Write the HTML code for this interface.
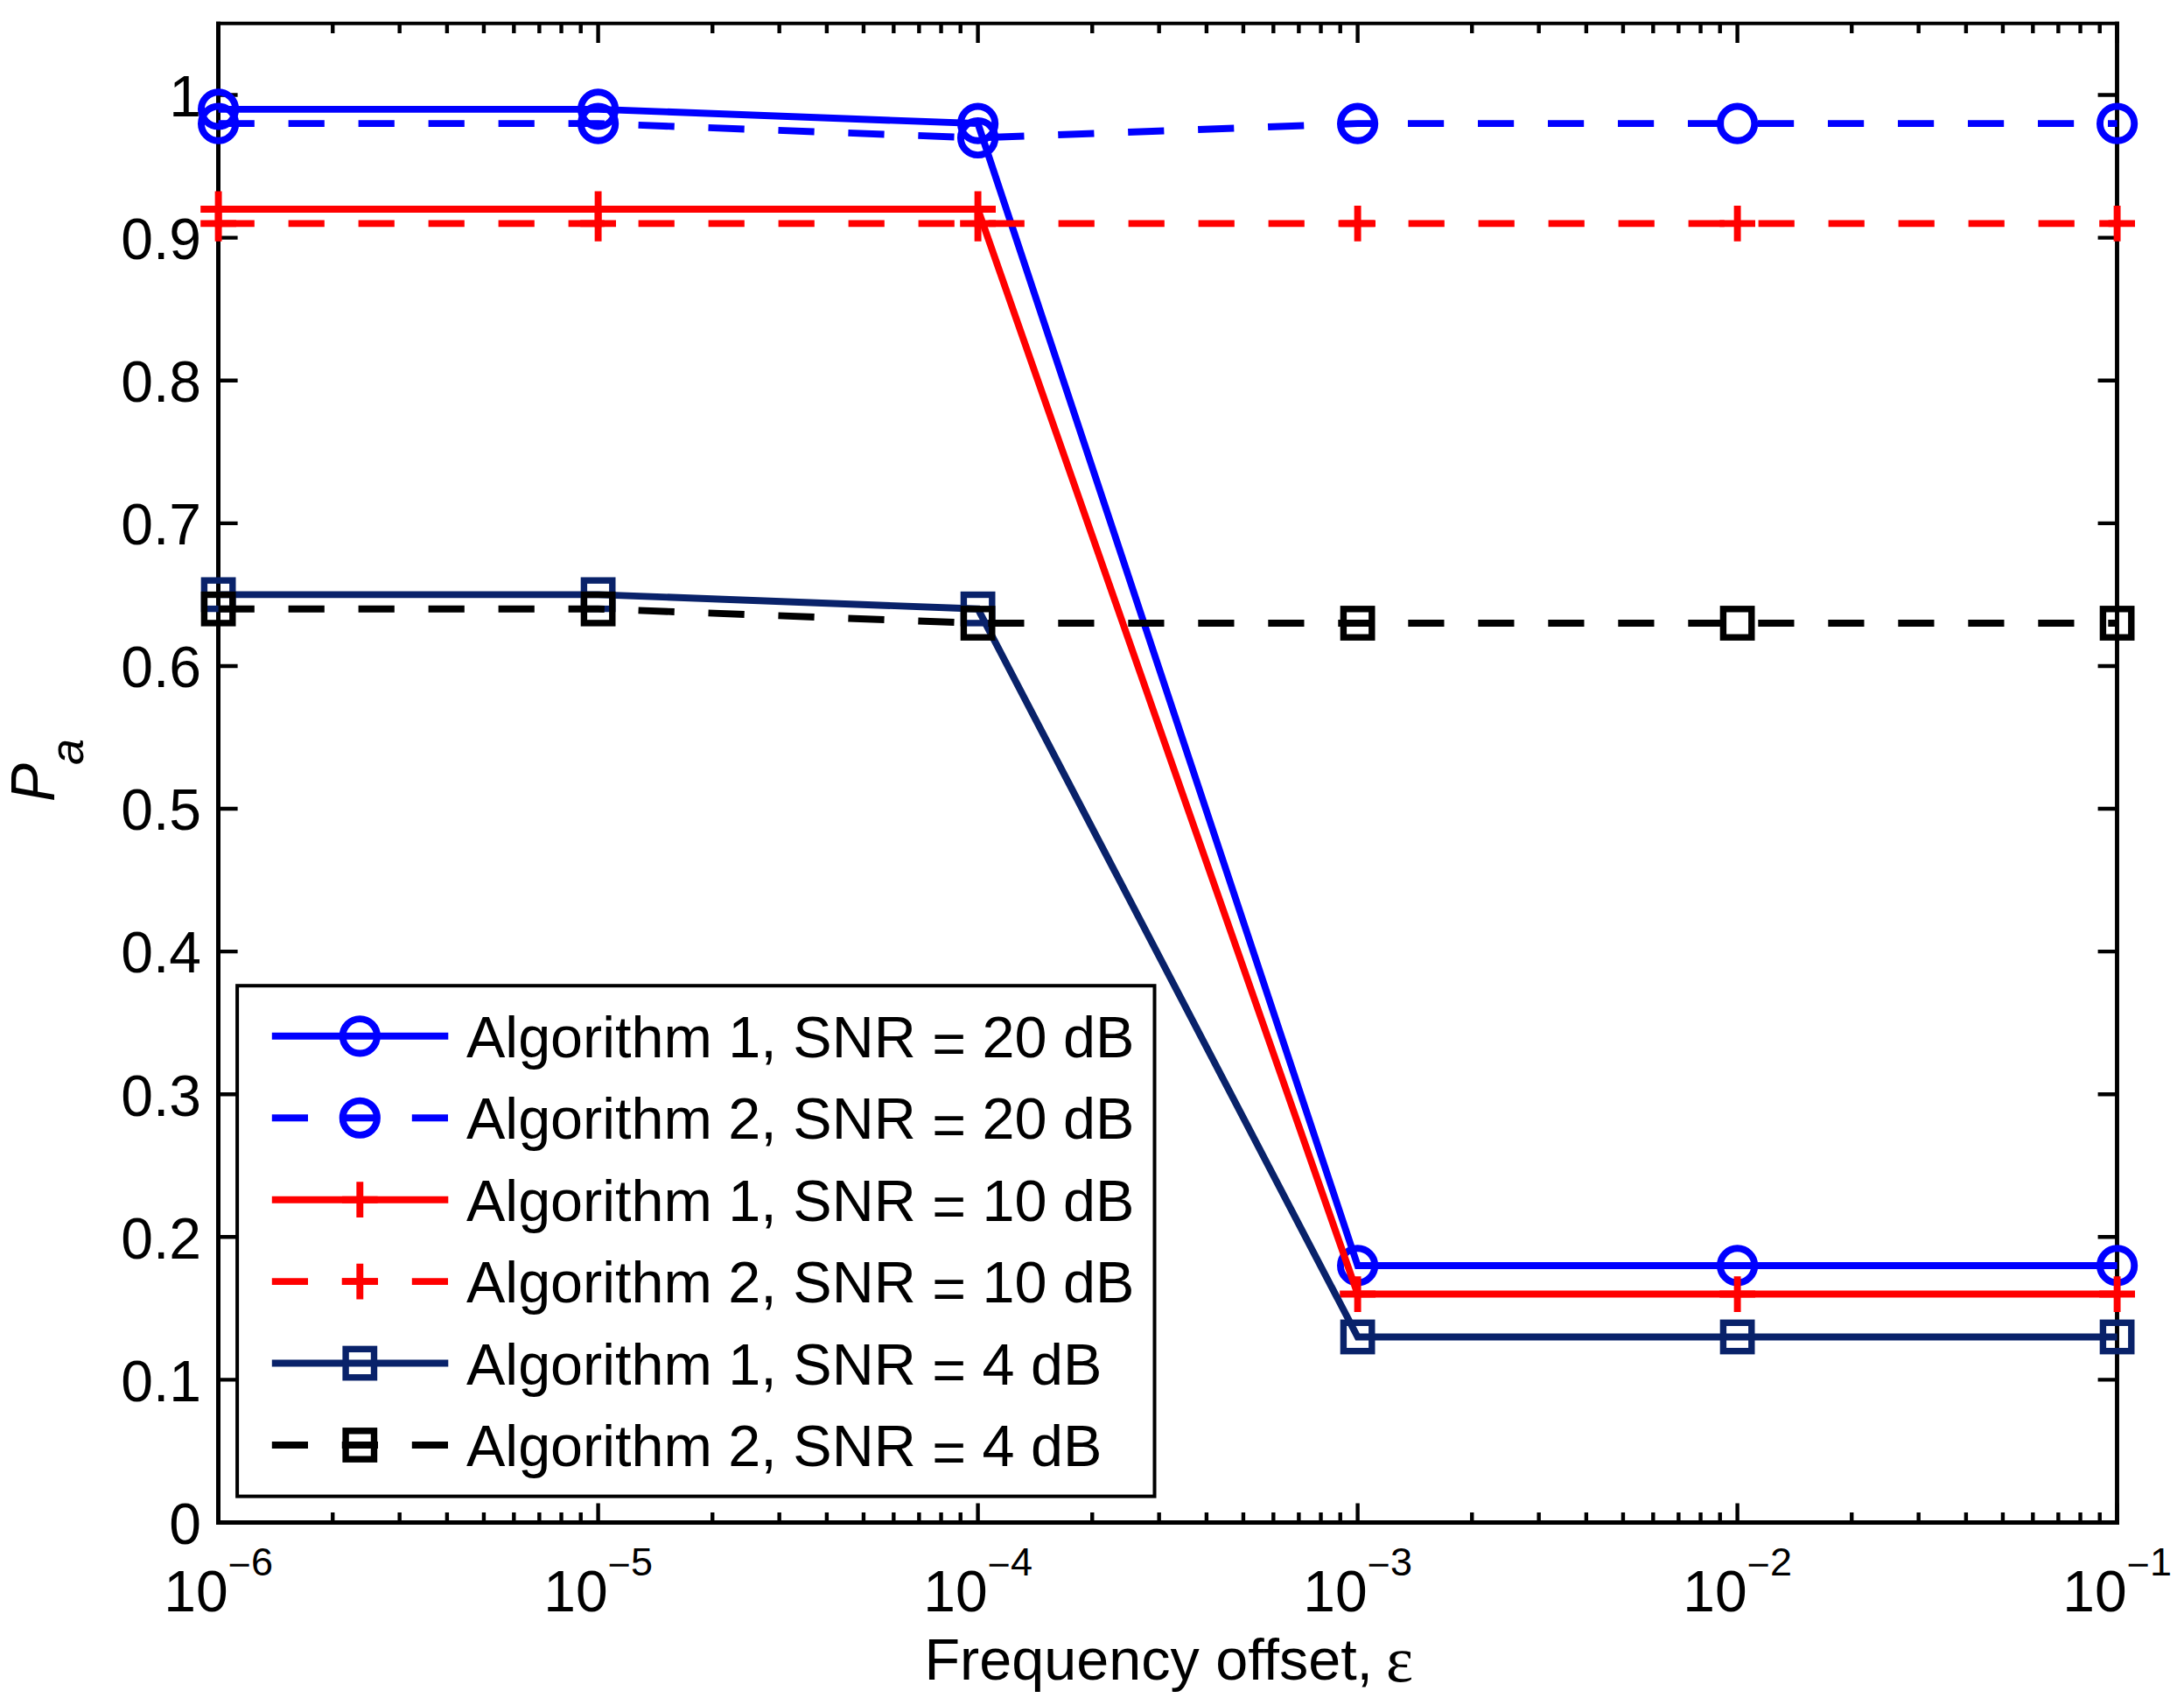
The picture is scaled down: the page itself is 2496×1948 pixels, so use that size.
<!DOCTYPE html>
<html lang="en"><head><meta charset="utf-8"><title>Pa versus frequency offset</title>
<style>
html,body{margin:0;padding:0;background:#fff;}
body{width:2496px;height:1948px;overflow:hidden;}
svg{display:block;}
text{font-family:"Liberation Sans",Arial,Helvetica,sans-serif;fill:#000;}
.t{font-size:66px;}
.s{font-size:45px;}
.l{font-size:66.5px;}
</style></head><body>
<svg width="2496" height="1948" viewBox="0 0 2496 1948">
<rect x="0" y="0" width="2496" height="1948" fill="#ffffff"/>
<path d="M380.25 1739.5V1728.00M380.25 27.0V38.00M456.67 1739.5V1728.00M456.67 27.0V38.00M510.89 1739.5V1728.00M510.89 27.0V38.00M552.95 1739.5V1728.00M552.95 27.0V38.00M587.32 1739.5V1728.00M587.32 27.0V38.00M616.37 1739.5V1728.00M616.37 27.0V38.00M641.54 1739.5V1728.00M641.54 27.0V38.00M663.74 1739.5V1728.00M663.74 27.0V38.00M683.60 1739.5V1717.50M683.60 27.0V49.00M814.25 1739.5V1728.00M814.25 27.0V38.00M890.67 1739.5V1728.00M890.67 27.0V38.00M944.89 1739.5V1728.00M944.89 27.0V38.00M986.95 1739.5V1728.00M986.95 27.0V38.00M1021.32 1739.5V1728.00M1021.32 27.0V38.00M1050.37 1739.5V1728.00M1050.37 27.0V38.00M1075.54 1739.5V1728.00M1075.54 27.0V38.00M1097.74 1739.5V1728.00M1097.74 27.0V38.00M1117.60 1739.5V1717.50M1117.60 27.0V49.00M1248.25 1739.5V1728.00M1248.25 27.0V38.00M1324.67 1739.5V1728.00M1324.67 27.0V38.00M1378.89 1739.5V1728.00M1378.89 27.0V38.00M1420.95 1739.5V1728.00M1420.95 27.0V38.00M1455.32 1739.5V1728.00M1455.32 27.0V38.00M1484.37 1739.5V1728.00M1484.37 27.0V38.00M1509.54 1739.5V1728.00M1509.54 27.0V38.00M1531.74 1739.5V1728.00M1531.74 27.0V38.00M1551.60 1739.5V1717.50M1551.60 27.0V49.00M1682.25 1739.5V1728.00M1682.25 27.0V38.00M1758.67 1739.5V1728.00M1758.67 27.0V38.00M1812.89 1739.5V1728.00M1812.89 27.0V38.00M1854.95 1739.5V1728.00M1854.95 27.0V38.00M1889.32 1739.5V1728.00M1889.32 27.0V38.00M1918.37 1739.5V1728.00M1918.37 27.0V38.00M1943.54 1739.5V1728.00M1943.54 27.0V38.00M1965.74 1739.5V1728.00M1965.74 27.0V38.00M1985.60 1739.5V1717.50M1985.60 27.0V49.00M2116.25 1739.5V1728.00M2116.25 27.0V38.00M2192.67 1739.5V1728.00M2192.67 27.0V38.00M2246.89 1739.5V1728.00M2246.89 27.0V38.00M2288.95 1739.5V1728.00M2288.95 27.0V38.00M2323.32 1739.5V1728.00M2323.32 27.0V38.00M2352.37 1739.5V1728.00M2352.37 27.0V38.00M2377.54 1739.5V1728.00M2377.54 27.0V38.00M2399.74 1739.5V1728.00M2399.74 27.0V38.00M2419.60 1739.5V1717.50M2419.60 27.0V49.00M2550.25 1739.5V1728.00M2550.25 27.0V38.00M2626.67 1739.5V1728.00M2626.67 27.0V38.00M2680.89 1739.5V1728.00M2680.89 27.0V38.00M2722.95 1739.5V1728.00M2722.95 27.0V38.00M2757.32 1739.5V1728.00M2757.32 27.0V38.00M2786.37 1739.5V1728.00M2786.37 27.0V38.00M2811.54 1739.5V1728.00M2811.54 27.0V38.00M2833.74 1739.5V1728.00M2833.74 27.0V38.00M249.6 1576.40H271.60M2419.6 1576.40H2397.60M249.6 1413.31H271.60M2419.6 1413.31H2397.60M249.6 1250.21H271.60M2419.6 1250.21H2397.60M249.6 1087.12H271.60M2419.6 1087.12H2397.60M249.6 924.02H271.60M2419.6 924.02H2397.60M249.6 760.93H271.60M2419.6 760.93H2397.60M249.6 597.83H271.60M2419.6 597.83H2397.60M249.6 434.74H271.60M2419.6 434.74H2397.60M249.6 271.64H271.60M2419.6 271.64H2397.60M249.6 108.55H271.60M2419.6 108.55H2397.60" stroke="#000" stroke-width="4.4" fill="none"/>
<path d="M247 26.85H2422" stroke="#000" stroke-width="4" fill="none"/>
<path d="M247 1739.5H2422" stroke="#000" stroke-width="4.8" fill="none"/>
<path d="M249.5 24.85V1741.9" stroke="#000" stroke-width="5" fill="none"/>
<path d="M2419.5 24.85V1741.9" stroke="#000" stroke-width="4.9" fill="none"/>
<polyline points="249.60,124.86 683.60,124.86 1117.60,141.17 1551.60,1445.93 1985.60,1445.93 2419.60,1445.93" fill="none" stroke="#0000ff" stroke-width="7.9" stroke-linejoin="miter" stroke-miterlimit="10"/>
<circle cx="249.60" cy="124.86" r="19.65" fill="none" stroke="#0000ff" stroke-width="7.9"/>
<circle cx="683.60" cy="124.86" r="19.65" fill="none" stroke="#0000ff" stroke-width="7.9"/>
<circle cx="1117.60" cy="141.17" r="19.65" fill="none" stroke="#0000ff" stroke-width="7.9"/>
<circle cx="1551.60" cy="1445.93" r="19.65" fill="none" stroke="#0000ff" stroke-width="7.9"/>
<circle cx="1985.60" cy="1445.93" r="19.65" fill="none" stroke="#0000ff" stroke-width="7.9"/>
<circle cx="2419.60" cy="1445.93" r="19.65" fill="none" stroke="#0000ff" stroke-width="7.9"/>
<polyline points="249.60,141.17 683.60,141.17 1117.60,157.48 1551.60,141.17 1985.60,141.17 2419.60,141.17" fill="none" stroke="#0000ff" stroke-width="7.9" stroke-linejoin="miter" stroke-miterlimit="10" stroke-dasharray="41.2 38.8"/>
<circle cx="249.60" cy="141.17" r="19.65" fill="none" stroke="#0000ff" stroke-width="7.9"/>
<circle cx="683.60" cy="141.17" r="19.65" fill="none" stroke="#0000ff" stroke-width="7.9"/>
<circle cx="1117.60" cy="157.48" r="19.65" fill="none" stroke="#0000ff" stroke-width="7.9"/>
<circle cx="1551.60" cy="141.17" r="19.65" fill="none" stroke="#0000ff" stroke-width="7.9"/>
<circle cx="1985.60" cy="141.17" r="19.65" fill="none" stroke="#0000ff" stroke-width="7.9"/>
<circle cx="2419.60" cy="141.17" r="19.65" fill="none" stroke="#0000ff" stroke-width="7.9"/>
<polyline points="249.60,239.02 683.60,239.02 1117.60,239.02 1551.60,1478.55 1985.60,1478.55 2419.60,1478.55" fill="none" stroke="#ff0000" stroke-width="7.9" stroke-linejoin="miter" stroke-miterlimit="10"/>
<path d="M229.20 239.02H270.00M249.60 218.62V259.42" fill="none" stroke="#ff0000" stroke-width="7.9"/>
<path d="M663.20 239.02H704.00M683.60 218.62V259.42" fill="none" stroke="#ff0000" stroke-width="7.9"/>
<path d="M1097.20 239.02H1138.00M1117.60 218.62V259.42" fill="none" stroke="#ff0000" stroke-width="7.9"/>
<path d="M1531.20 1478.55H1572.00M1551.60 1458.15V1498.95" fill="none" stroke="#ff0000" stroke-width="7.9"/>
<path d="M1965.20 1478.55H2006.00M1985.60 1458.15V1498.95" fill="none" stroke="#ff0000" stroke-width="7.9"/>
<path d="M2399.20 1478.55H2440.00M2419.60 1458.15V1498.95" fill="none" stroke="#ff0000" stroke-width="7.9"/>
<polyline points="249.60,255.33 683.60,255.33 1117.60,255.33 1551.60,255.33 1985.60,255.33 2419.60,255.33" fill="none" stroke="#ff0000" stroke-width="7.9" stroke-linejoin="miter" stroke-miterlimit="10" stroke-dasharray="41.2 38.8"/>
<path d="M229.20 255.33H270.00M249.60 234.93V275.73" fill="none" stroke="#ff0000" stroke-width="7.9"/>
<path d="M663.20 255.33H704.00M683.60 234.93V275.73" fill="none" stroke="#ff0000" stroke-width="7.9"/>
<path d="M1097.20 255.33H1138.00M1117.60 234.93V275.73" fill="none" stroke="#ff0000" stroke-width="7.9"/>
<path d="M1531.20 255.33H1572.00M1551.60 234.93V275.73" fill="none" stroke="#ff0000" stroke-width="7.9"/>
<path d="M1965.20 255.33H2006.00M1985.60 234.93V275.73" fill="none" stroke="#ff0000" stroke-width="7.9"/>
<path d="M2399.20 255.33H2440.00M2419.60 234.93V275.73" fill="none" stroke="#ff0000" stroke-width="7.9"/>
<polyline points="249.60,679.38 683.60,679.38 1117.60,695.69 1551.60,1527.48 1985.60,1527.48 2419.60,1527.48" fill="none" stroke="#09226a" stroke-width="7.9" stroke-linejoin="miter" stroke-miterlimit="10"/>
<rect x="233.40" y="663.18" width="32.4" height="32.4" fill="none" stroke="#09226a" stroke-width="7.4"/>
<rect x="667.40" y="663.18" width="32.4" height="32.4" fill="none" stroke="#09226a" stroke-width="7.4"/>
<rect x="1101.40" y="679.49" width="32.4" height="32.4" fill="none" stroke="#09226a" stroke-width="7.4"/>
<rect x="1535.40" y="1511.28" width="32.4" height="32.4" fill="none" stroke="#09226a" stroke-width="7.4"/>
<rect x="1969.40" y="1511.28" width="32.4" height="32.4" fill="none" stroke="#09226a" stroke-width="7.4"/>
<rect x="2403.40" y="1511.28" width="32.4" height="32.4" fill="none" stroke="#09226a" stroke-width="7.4"/>
<polyline points="249.60,695.69 683.60,695.69 1117.60,712.00 1551.60,712.00 1985.60,712.00 2419.60,712.00" fill="none" stroke="#000000" stroke-width="7.9" stroke-linejoin="miter" stroke-miterlimit="10" stroke-dasharray="41.2 38.8"/>
<rect x="233.40" y="679.49" width="32.4" height="32.4" fill="none" stroke="#000000" stroke-width="7.4"/>
<rect x="667.40" y="679.49" width="32.4" height="32.4" fill="none" stroke="#000000" stroke-width="7.4"/>
<rect x="1101.40" y="695.80" width="32.4" height="32.4" fill="none" stroke="#000000" stroke-width="7.4"/>
<rect x="1535.40" y="695.80" width="32.4" height="32.4" fill="none" stroke="#000000" stroke-width="7.4"/>
<rect x="1969.40" y="695.80" width="32.4" height="32.4" fill="none" stroke="#000000" stroke-width="7.4"/>
<rect x="2403.40" y="695.80" width="32.4" height="32.4" fill="none" stroke="#000000" stroke-width="7.4"/>
<text class="t" x="230" y="1763.80" text-anchor="end">0</text>
<text class="t" x="230" y="1600.70" text-anchor="end">0.1</text>
<text class="t" x="230" y="1437.61" text-anchor="end">0.2</text>
<text class="t" x="230" y="1274.51" text-anchor="end">0.3</text>
<text class="t" x="230" y="1111.42" text-anchor="end">0.4</text>
<text class="t" x="230" y="948.32" text-anchor="end">0.5</text>
<text class="t" x="230" y="785.23" text-anchor="end">0.6</text>
<text class="t" x="230" y="622.13" text-anchor="end">0.7</text>
<text class="t" x="230" y="459.04" text-anchor="end">0.8</text>
<text class="t" x="230" y="295.94" text-anchor="end">0.9</text>
<text class="t" x="230" y="132.85" text-anchor="end">1</text>
<text class="t" x="187.20" y="1840.8">10<tspan class="s" dy="-37.6">−</tspan><tspan class="s" dy="-3.7">6</tspan></text>
<text class="t" x="621.20" y="1840.8">10<tspan class="s" dy="-37.6">−</tspan><tspan class="s" dy="-3.7">5</tspan></text>
<text class="t" x="1055.20" y="1840.8">10<tspan class="s" dy="-37.6">−</tspan><tspan class="s" dy="-3.7">4</tspan></text>
<text class="t" x="1489.20" y="1840.8">10<tspan class="s" dy="-37.6">−</tspan><tspan class="s" dy="-3.7">3</tspan></text>
<text class="t" x="1923.20" y="1840.8">10<tspan class="s" dy="-37.6">−</tspan><tspan class="s" dy="-3.7">2</tspan></text>
<text class="t" x="2357.20" y="1840.8">10<tspan class="s" dy="-37.6">−</tspan><tspan class="s" dy="-3.7">1</tspan></text>
<text class="l" x="1056.5" y="1919.2">Frequency offset, <tspan style="font-family:'Liberation Serif','DejaVu Serif',serif;font-size:74px" dx="-3.5" dy="1.5">ε</tspan></text>
<text class="t" transform="translate(61.9 916) rotate(-90) scale(1 1.065)" style="font-style:italic">P</text>
<text transform="translate(95.2 874) rotate(-90)" style="font-style:italic;font-size:54px">a</text>
<rect x="271.1" y="1126.2" width="1048.40" height="583.40" fill="#fff" stroke="#000" stroke-width="4"/>
<path d="M310.8 1183.80H512.3" fill="none" stroke="#0000ff" stroke-width="7.9"/>
<circle cx="411.30" cy="1183.80" r="19.65" fill="none" stroke="#0000ff" stroke-width="7.9"/>
<text class="l" x="533" y="1208.00">Algorithm 1, SNR <tspan dy="6.5">=</tspan><tspan dy="-6.5"> </tspan>20 dB</text>
<path d="M310.8 1277.24H512.3" fill="none" stroke="#0000ff" stroke-width="7.9" stroke-dasharray="41.2 38.8"/>
<circle cx="411.30" cy="1277.24" r="19.65" fill="none" stroke="#0000ff" stroke-width="7.9"/>
<text class="l" x="533" y="1301.44">Algorithm 2, SNR <tspan dy="6.5">=</tspan><tspan dy="-6.5"> </tspan>20 dB</text>
<path d="M310.8 1370.68H512.3" fill="none" stroke="#ff0000" stroke-width="7.9"/>
<path d="M390.90 1370.68H431.70M411.30 1350.28V1391.08" fill="none" stroke="#ff0000" stroke-width="7.9"/>
<text class="l" x="533" y="1394.88">Algorithm 1, SNR <tspan dy="6.5">=</tspan><tspan dy="-6.5"> </tspan>10 dB</text>
<path d="M310.8 1464.12H512.3" fill="none" stroke="#ff0000" stroke-width="7.9" stroke-dasharray="41.2 38.8"/>
<path d="M390.90 1464.12H431.70M411.30 1443.72V1484.52" fill="none" stroke="#ff0000" stroke-width="7.9"/>
<text class="l" x="533" y="1488.32">Algorithm 2, SNR <tspan dy="6.5">=</tspan><tspan dy="-6.5"> </tspan>10 dB</text>
<path d="M310.8 1557.56H512.3" fill="none" stroke="#09226a" stroke-width="7.9"/>
<rect x="395.10" y="1541.36" width="32.4" height="32.4" fill="none" stroke="#09226a" stroke-width="7.4"/>
<text class="l" x="533" y="1581.76">Algorithm 1, SNR <tspan dy="6.5">=</tspan><tspan dy="-6.5"> </tspan>4 dB</text>
<path d="M310.8 1651.00H512.3" fill="none" stroke="#000000" stroke-width="7.9" stroke-dasharray="41.2 38.8"/>
<rect x="395.10" y="1634.80" width="32.4" height="32.4" fill="none" stroke="#000000" stroke-width="7.4"/>
<text class="l" x="533" y="1675.20">Algorithm 2, SNR <tspan dy="6.5">=</tspan><tspan dy="-6.5"> </tspan>4 dB</text>
</svg></body></html>
